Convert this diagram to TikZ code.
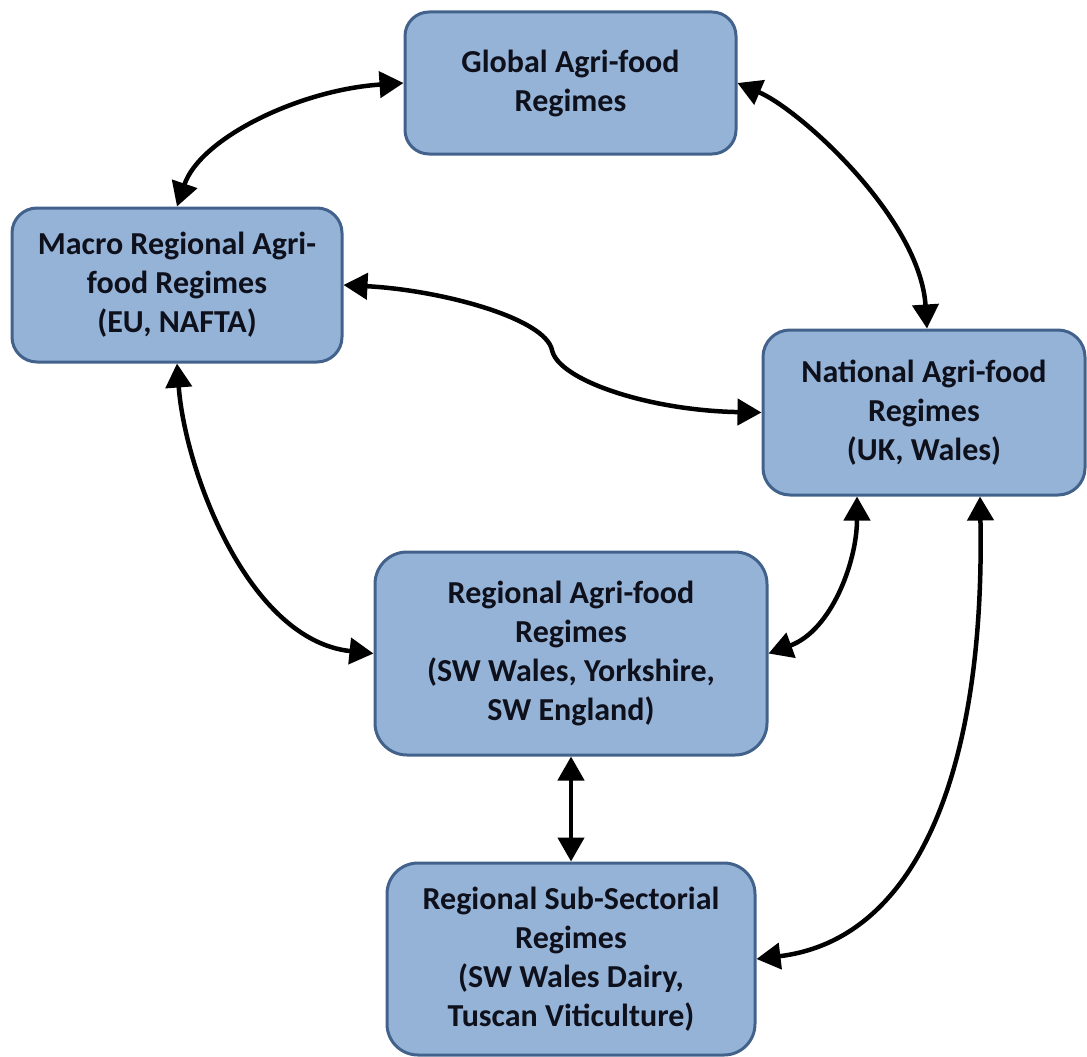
\documentclass[tikz,border=0pt]{standalone}
\usepackage{fontspec}
\setmainfont{Carlito}
\usetikzlibrary{arrows.meta,calc}

\definecolor{boxfill}{RGB}{149,179,215}
\definecolor{boxline}{RGB}{66,98,140}
\definecolor{boxtext}{RGB}{14,16,28}

\tikzset{
  regime/.style={draw=boxline, fill=boxfill, line width=3pt,
    align=center, text=boxtext, inner sep=0pt,
    font=\fontsize{32}{39}\selectfont\bfseries},
  link/.style={line width=4.5pt, black,
    {Triangle[length=24pt,width=26pt]}-{Triangle[length=24pt,width=26pt]}}
}

\begin{document}
\begin{tikzpicture}[x=1pt,y=-1pt]
\useasboundingbox (0,0) rectangle (1087,1057);

% the five regime levels
\node[regime, minimum width=331pt, minimum height=142pt, rounded corners=24pt]
  (global) at (570.5,83) {Global Agri-food\\Regimes};
\node[regime, minimum width=330pt, minimum height=154pt, rounded corners=25pt]
  (macro) at (177,285) {Macro Regional Agri-\\food Regimes\\(EU, NAFTA)};
\node[regime, minimum width=322pt, minimum height=165pt, rounded corners=27pt]
  (national) at (924,412.5) {National Agri-food\\Regimes\\(UK, Wales)};
\node[regime, minimum width=392pt, minimum height=203pt, rounded corners=32pt]
  (regional) at (571,653.5) {Regional Agri-food\\Regimes\\(SW Wales, Yorkshire,\\SW England)};
\node[regime, minimum width=368pt, minimum height=192pt, rounded corners=31pt]
  (sub) at (571,959) {Regional Sub-Sectorial\\Regimes\\(SW Wales Dairy,\\Tuscan Viticulture)};

% attachment points on the national box
\coordinate (natL) at ($(national.south)+(-67,0)$);
\coordinate (natR) at ($(national.south)+(56,0)$);
\coordinate (natT) at ($(national.north)+(3,0)$);
\coordinate (kink) at (552,350);

% two-way influences between levels
\draw[link] (global.west) .. controls +(-105,7) and +(23,-68) .. (macro.north);
\draw[link] (global.east) .. controls +(63,27) and +(-7,-110) .. (natT);
\draw[link] (macro.east) .. controls +(97,5) and +(-7,-32) .. (kink)
  .. controls +(6,30) and +(-113,-2) .. (national.west);
\draw[link] (macro.south) .. controls +(8,108) and +(-125,-13) .. (regional.west);
\draw[link] (natL) .. controls +(0,65) and +(63,-23) .. (regional.east);
\draw[link] (natR) .. controls +(5,265) and +(165,-20) .. (sub.east);
\draw[link] (regional.south) -- (sub.north);
\end{tikzpicture}
\end{document}
